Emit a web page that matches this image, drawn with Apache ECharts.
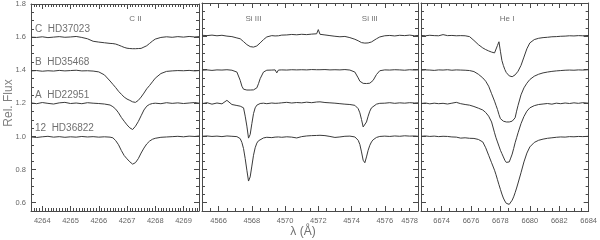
<!DOCTYPE html>
<html><head><meta charset="utf-8">
<script src="https://cdn.jsdelivr.net/npm/echarts@6/dist/echarts.min.js"></script>
<style>html,body{margin:0;padding:0;background:#fff}#c{width:600px;height:240px}</style>
</head><body><div id="c"></div>
<script>
// ---------- Panel 1 : C II 4267 ----------
const p1Wave = [4263.6,4263.8,4264.0,4264.2,4264.4,4264.6,4264.8,4265.0,4265.2,4265.4,4265.6,4265.8,4266.0,4266.2,4266.4,4266.5,4266.6,4266.7,4266.8,4266.9,4267.0,4267.1,4267.2,4267.3,4267.4,4267.5,4267.6,4267.7,4267.8,4267.9,4268.0,4268.2,4268.4,4268.6,4268.8,4269.0,4269.2,4269.4,4269.55];
const p1C = [1.600,1.598,1.602,1.597,1.600,1.603,1.599,1.601,1.604,1.598,1.590,1.575,1.570,1.566,1.562,1.561,1.558,1.552,1.545,1.538,1.533,1.531,1.530,1.530,1.531,1.532,1.540,1.548,1.562,1.576,1.588,1.598,1.602,1.599,1.603,1.600,1.604,1.601,1.603];
const p1B = [1.396,1.398,1.394,1.397,1.395,1.399,1.396,1.398,1.400,1.396,1.397,1.395,1.390,1.372,1.335,1.315,1.295,1.273,1.255,1.238,1.226,1.218,1.209,1.206,1.218,1.238,1.262,1.288,1.308,1.330,1.352,1.380,1.393,1.396,1.398,1.397,1.399,1.396,1.398];
const p1A = [1.203,1.198,1.205,1.200,1.196,1.203,1.206,1.199,1.202,1.198,1.204,1.201,1.199,1.196,1.190,1.180,1.165,1.143,1.115,1.092,1.070,1.052,1.042,1.062,1.090,1.125,1.160,1.183,1.194,1.199,1.201,1.198,1.204,1.200,1.203,1.199,1.202,1.205,1.201];
const p1S12 = [0.997,0.994,0.998,1.001,0.996,0.999,0.995,0.998,0.996,1.000,0.997,0.999,0.996,0.998,0.996,0.992,0.975,0.950,0.915,0.885,0.865,0.847,0.833,0.842,0.866,0.900,0.930,0.955,0.972,0.983,0.989,0.995,0.997,0.999,1.001,0.998,1.002,1.000,1.003];

// ---------- Panel 2 : Si III 4568 / 4575 ----------
const p2Wave = [4565.0,4565.3,4565.6,4565.9,4566.2,4566.5,4566.8,4567.1,4567.3,4567.4,4567.5,4567.6,4567.7,4567.8,4567.9,4568.0,4568.1,4568.2,4568.3,4568.4,4568.5,4568.7,4568.9,4569.2,4569.4,4569.5,4569.6,4569.8,4570.1,4570.4,4570.7,4571.0,4571.3,4571.6,4571.9,4572.0,4572.1,4572.4,4572.7,4573.0,4573.3,4573.6,4573.9,4574.2,4574.4,4574.5,4574.6,4574.7,4574.8,4574.9,4575.0,4575.1,4575.2,4575.3,4575.5,4575.7,4576.0,4576.3,4576.6,4576.9,4577.2,4577.5,4577.8,4578.0];
const p2C = [1.606,1.604,1.607,1.603,1.606,1.601,1.598,1.590,1.585,1.578,1.568,1.560,1.550,1.543,1.538,1.536,1.535,1.537,1.542,1.550,1.560,1.580,1.596,1.604,1.602,1.604,1.603,1.607,1.608,1.611,1.609,1.612,1.610,1.613,1.615,1.640,1.612,1.608,1.604,1.600,1.597,1.599,1.592,1.582,1.573,1.567,1.562,1.560,1.559,1.561,1.560,1.562,1.566,1.572,1.585,1.596,1.603,1.605,1.602,1.606,1.604,1.607,1.603,1.605];
const p2B = [1.396,1.398,1.395,1.398,1.397,1.399,1.396,1.385,1.335,1.300,1.282,1.278,1.277,1.276,1.277,1.276,1.278,1.280,1.290,1.315,1.345,1.385,1.396,1.397,1.398,1.380,1.397,1.398,1.397,1.399,1.398,1.399,1.398,1.400,1.399,1.398,1.399,1.400,1.398,1.399,1.398,1.400,1.397,1.385,1.350,1.330,1.320,1.317,1.316,1.316,1.317,1.318,1.322,1.335,1.370,1.393,1.398,1.397,1.399,1.398,1.396,1.399,1.397,1.398];
const p2A = [1.195,1.201,1.192,1.199,1.194,1.215,1.190,1.184,1.180,1.176,1.170,1.120,1.060,0.988,1.010,1.075,1.135,1.170,1.186,1.192,1.196,1.198,1.195,1.199,1.197,1.201,1.198,1.200,1.203,1.199,1.202,1.200,1.204,1.201,1.205,1.203,1.206,1.202,1.200,1.198,1.195,1.192,1.190,1.185,1.165,1.140,1.100,1.055,1.050,1.085,1.120,1.150,1.170,1.182,1.192,1.197,1.198,1.201,1.197,1.200,1.198,1.201,1.199,1.200];
const p2S12 = [0.999,1.001,0.998,1.000,0.997,1.001,0.999,0.997,0.985,0.962,0.925,0.865,0.795,0.730,0.755,0.820,0.885,0.930,0.958,0.972,0.981,0.989,0.993,0.991,0.994,0.992,0.995,0.993,0.996,0.994,0.989,0.997,1.001,1.003,1.004,1.002,1.005,1.003,0.998,0.992,0.995,0.999,1.000,0.995,0.975,0.950,0.905,0.855,0.840,0.875,0.915,0.945,0.965,0.978,0.992,0.998,1.000,0.998,1.001,0.999,1.002,1.000,1.001,0.999];

// ---------- Panel 3 : He I 6678 ----------
const p3Wave = [6672.6,6672.9,6673.2,6673.5,6673.8,6674.1,6674.4,6674.7,6675.0,6675.3,6675.6,6675.9,6676.2,6676.5,6676.8,6677.0,6677.2,6677.4,6677.6,6677.7,6677.8,6677.9,6678.0,6678.1,6678.2,6678.3,6678.4,6678.5,6678.6,6678.7,6678.8,6678.9,6679.0,6679.1,6679.2,6679.4,6679.6,6679.8,6680.0,6680.3,6680.6,6680.9,6681.2,6681.5,6681.8,6682.1,6682.4,6682.7,6683.0,6683.3,6683.6,6684.0];
const p3C = [1.605,1.603,1.606,1.604,1.603,1.610,1.604,1.605,1.603,1.604,1.603,1.598,1.575,1.550,1.530,1.520,1.512,1.505,1.500,1.512,1.545,1.567,1.510,1.455,1.425,1.400,1.382,1.370,1.362,1.358,1.357,1.360,1.368,1.378,1.390,1.425,1.475,1.525,1.560,1.580,1.588,1.592,1.594,1.597,1.598,1.600,1.601,1.603,1.602,1.604,1.603,1.605];
const p3B = [1.396,1.398,1.397,1.395,1.398,1.397,1.399,1.396,1.398,1.397,1.396,1.394,1.388,1.372,1.350,1.330,1.300,1.255,1.210,1.185,1.160,1.130,1.105,1.094,1.090,1.087,1.085,1.084,1.085,1.087,1.090,1.095,1.110,1.150,1.185,1.248,1.290,1.318,1.340,1.360,1.372,1.380,1.385,1.389,1.392,1.394,1.396,1.397,1.396,1.398,1.397,1.399];
const p3A = [1.196,1.199,1.194,1.198,1.195,1.197,1.193,1.198,1.203,1.195,1.190,1.186,1.178,1.168,1.157,1.142,1.120,1.085,1.020,0.990,0.965,0.940,0.915,0.895,0.875,0.855,0.842,0.837,0.845,0.868,0.892,0.925,0.960,0.990,1.020,1.075,1.118,1.150,1.170,1.183,1.190,1.193,1.196,1.192,1.198,1.195,1.199,1.196,1.200,1.197,1.201,1.198];
const p3S12 = [0.999,1.001,0.998,1.000,0.997,0.999,0.998,0.995,0.994,0.988,0.990,0.987,0.986,0.980,0.965,0.930,0.885,0.840,0.795,0.768,0.738,0.708,0.680,0.652,0.628,0.610,0.596,0.588,0.590,0.600,0.615,0.635,0.660,0.688,0.718,0.780,0.845,0.898,0.935,0.962,0.975,0.982,0.987,0.990,0.993,0.995,0.994,0.997,0.996,0.998,0.997,0.999];

// ---------- Ticks & texts ----------
const p1Ticks = [4264,4265,4266,4267,4268,4269];
const p2Ticks = [4566,4568,4570,4572,4574,4576,4578];
const p3Ticks = [6674,6676,6678,6680,6682,6684];
const yTicks = [0.6,0.8,1.0,1.2,1.4,1.6,1.8];
const starNames = ['C  HD37023','B  HD35468','A  HD22951','12  HD36822'];
const starLevels = [1.6,1.4,1.2,1.0];
const ionNames = ['C II','Si III','Si III','He I'];
const ionWave = [4267.3,4568.1,4575.1,6678.45];
const ionPanel = [0,1,1,2];

const YMIN = 0.55, YMAX = 1.8;
const panels = [
  {left:31, width:168, min:4263.6, max:4269.55, ticks:p1Ticks, minorStep:0.1, wave:p1Wave, flux:[p1C,p1B,p1A,p1S12]},
  {left:202, width:216, min:4565.0, max:4578.0, ticks:p2Ticks, minorStep:0.5, wave:p2Wave, flux:[p2C,p2B,p2A,p2S12]},
  {left:421, width:169, min:6672.6, max:6684.0, ticks:p3Ticks, minorStep:0.5, wave:p3Wave, flux:[p3C,p3B,p3A,p3S12]}
];

function minorVals(min, max, step) {
  const out = [];
  const n0 = Math.ceil(min / step - 1e-9), n1 = Math.floor(max / step + 1e-9);
  for (let n = n0; n <= n1; n++) out.push(+(n * step).toFixed(4));
  return out;
}
const yMinor = minorVals(YMIN, YMAX, 0.05);

const AX = '#4a4a4a', TXT = '#666', FONT = 'Liberation Sans';
const grids = [], xAxes = [], yAxes = [], series = [];

panels.forEach((p, i) => {
  grids.push({left: p.left, width: p.width, top: 3, height: 208, containLabel: false});
  const xMinor = minorVals(p.min, p.max, p.minorStep);
  const baseX = (pos, major, showLab) => ({
    type: 'value', gridIndex: i, position: pos, min: p.min, max: p.max,
    splitLine: {show: false},
    axisLine: {show: major, onZero: false, lineStyle: {color: AX, width: 1}},
    axisTick: {show: true, inside: true, length: major ? 5 : 3,
      customValues: major ? p.ticks : xMinor, lineStyle: {color: AX, width: 1}},
    axisLabel: showLab ? {show: true, customValues: p.ticks, color: TXT, fontSize: 7.5,
      fontFamily: FONT, margin: 6, alignMaxLabel: (i === 1 ? 'right' : null),
      formatter: v => String(Math.round(v))} : {show: false}
  });
  xAxes.push(baseX('bottom', true, true));
  xAxes.push(baseX('bottom', false, false));
  xAxes.push(baseX('top', true, false));
  xAxes.push(baseX('top', false, false));
  const baseY = (pos, major, showLab) => ({
    type: 'value', gridIndex: i, position: pos, min: YMIN, max: YMAX,
    splitLine: {show: false},
    axisLine: {show: major, onZero: false, lineStyle: {color: AX, width: 1}},
    axisTick: {show: true, inside: true, length: major ? 5 : 3,
      customValues: major ? yTicks : yMinor, lineStyle: {color: AX, width: 1}},
    axisLabel: showLab ? {show: true, customValues: yTicks, color: TXT, fontSize: 7.5,
      fontFamily: FONT, margin: 5, formatter: v => v.toFixed(1)} : {show: false}
  });
  yAxes.push(baseY('left', true, i === 0));
  yAxes.push(baseY('left', false, false));
  yAxes.push(baseY('right', true, false));
  yAxes.push(baseY('right', false, false));
  p.flux.forEach((f, k) => {
    series.push({
      type: 'line', xAxisIndex: 4 * i, yAxisIndex: 4 * i, showSymbol: false,
      symbol: 'none', animation: false, silent: true, clip: true,
      lineStyle: {color: '#3a3a3a', width: 1},
      data: p.wave.map((w, j) => [w, f[j]])
    });
  });
});

const chart = echarts.init(document.getElementById('c'), null, {renderer: 'canvas'});
chart.setOption({
  animation: false, backgroundColor: '#fff',
  textStyle: {fontFamily: FONT},
  grid: grids, xAxis: xAxes, yAxis: yAxes, series: series
});

const g = [];
starNames.forEach((name, k) => {
  const pt = chart.convertToPixel({seriesIndex: 0}, [4263.74, starLevels[k] + 0.047]);
  g.push({type: 'text', x: pt[0], y: pt[1], z: 10,
    style: {text: name, fill: '#707070', fontSize: 10, fontFamily: FONT,
      align: 'left', verticalAlign: 'middle', textAlign: 'left', textVerticalAlign: 'middle'}});
});
ionNames.forEach((name, k) => {
  const pt = chart.convertToPixel({seriesIndex: ionPanel[k] * 4}, [ionWave[k], 1.708]);
  g.push({type: 'text', x: pt[0], y: pt[1], z: 10,
    style: {text: name, fill: '#707070', fontSize: 8, fontFamily: FONT,
      align: 'center', verticalAlign: 'middle', textAlign: 'center', textVerticalAlign: 'middle'}});
});
g.push({type: 'text', x: 9, y: 103, rotation: Math.PI / 2, z: 10,
  style: {text: 'Rel. Flux', fill: '#808080', fontSize: 12, fontFamily: FONT,
    align: 'center', verticalAlign: 'middle', textAlign: 'center', textVerticalAlign: 'middle'}});
g.push({type: 'text', x: 303, y: 232, z: 10,
  style: {text: 'λ (Å)', fill: '#707070', fontSize: 12, fontFamily: FONT,
    align: 'center', verticalAlign: 'middle', textAlign: 'center', textVerticalAlign: 'middle'}});
chart.setOption({graphic: g});
</script>
</body></html>
